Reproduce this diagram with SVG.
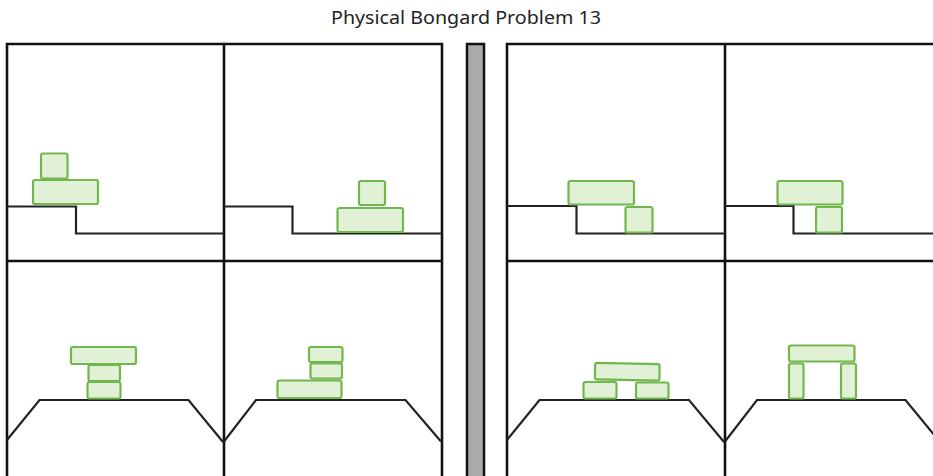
<svg xmlns="http://www.w3.org/2000/svg" width="933" height="476" viewBox="0 0 933 476">
<style>
.frame{fill:none;stroke:#111;stroke-width:2.6}
.ground{fill:none;stroke:#222;stroke-width:2.2}
.blk{fill:#e1f1d6;stroke:#72b64e;stroke-width:2.2}
.title{font-family:"Noto Sans","DejaVu Sans",sans-serif;font-size:18px;fill:#222}
</style>
<rect width="933" height="476" fill="#fff"/>
<text class="title" x="466" y="24" text-anchor="middle" textLength="270" lengthAdjust="spacingAndGlyphs">Physical Bongard Problem 13</text>
<g id="frames">
<path class="frame" d="M7,477 V44 H442 V477 M224,44 V477 M7,261 H442"/>
<rect x="467" y="44" width="17" height="440" fill="#aaa" stroke="#111" stroke-width="2.5"/>
<path class="frame" d="M507,477 V44 H935 M725,44 V477 M507,261 H935"/>
</g>
<g id="panel-left-1">
<path class="ground" d="M7,206.5 H76 V233.5 H224"/>
<rect class="blk" x="41" y="153.5" width="26.5" height="25" rx="2"/>
<rect class="blk" x="33" y="180" width="65" height="24" rx="2"/>
</g>
<g id="panel-left-2">
<path class="ground" d="M224,206.5 H292.5 V233.5 H442"/>
<rect class="blk" x="359" y="181" width="26" height="24" rx="2"/>
<rect class="blk" x="337.5" y="208" width="65.5" height="24" rx="2"/>
</g>
<g id="panel-left-3">
<path class="ground" d="M7,440 L39.5,400 H188.5 L223,442"/>
<rect class="blk" x="71" y="347" width="65" height="17" rx="2"/>
<rect class="blk" x="88.5" y="365" width="31.5" height="16" rx="2"/>
<rect class="blk" x="87.5" y="382" width="33" height="16.5" rx="2"/>
</g>
<g id="panel-left-4">
<path class="ground" d="M224,441.5 L256,400 H405.5 L441,441.5"/>
<rect class="blk" x="309" y="347" width="33.5" height="15" rx="2"/>
<rect class="blk" x="310.5" y="363.5" width="31.5" height="15" rx="2"/>
<rect class="blk" x="277.5" y="380.5" width="64" height="17.5" rx="2"/>
</g>
<g id="panel-right-1">
<path class="ground" d="M507,206 H576.5 V233.5 H725"/>
<rect class="blk" x="568.5" y="181" width="65.5" height="23.5" rx="2"/>
<rect class="blk" x="625.5" y="207" width="27" height="25.5" rx="2"/>
</g>
<g id="panel-right-2">
<path class="ground" d="M725,206 H793.5 V233.5 H935"/>
<rect class="blk" x="777.5" y="181" width="65" height="23.5" rx="2"/>
<rect class="blk" x="816" y="207" width="26" height="25.5" rx="2"/>
</g>
<g id="panel-right-3">
<path class="ground" d="M507,440 L539.5,400 H689 L724,442"/>
<rect class="blk" x="595" y="363.5" width="64.5" height="16.5" rx="2" transform="rotate(1.2 627 372)"/>
<rect class="blk" x="583.5" y="382" width="33" height="16.5" rx="2"/>
<rect class="blk" x="636" y="382.5" width="32.5" height="16" rx="2"/>
</g>
<g id="panel-right-4">
<path class="ground" d="M725,441.5 L757,400 H905.5 L935,436"/>
<rect class="blk" x="789" y="345.5" width="65.5" height="16" rx="2"/>
<rect class="blk" x="789" y="363.5" width="14.5" height="35" rx="2"/>
<rect class="blk" x="841" y="363.5" width="15" height="35" rx="2"/>
</g>
</svg>
